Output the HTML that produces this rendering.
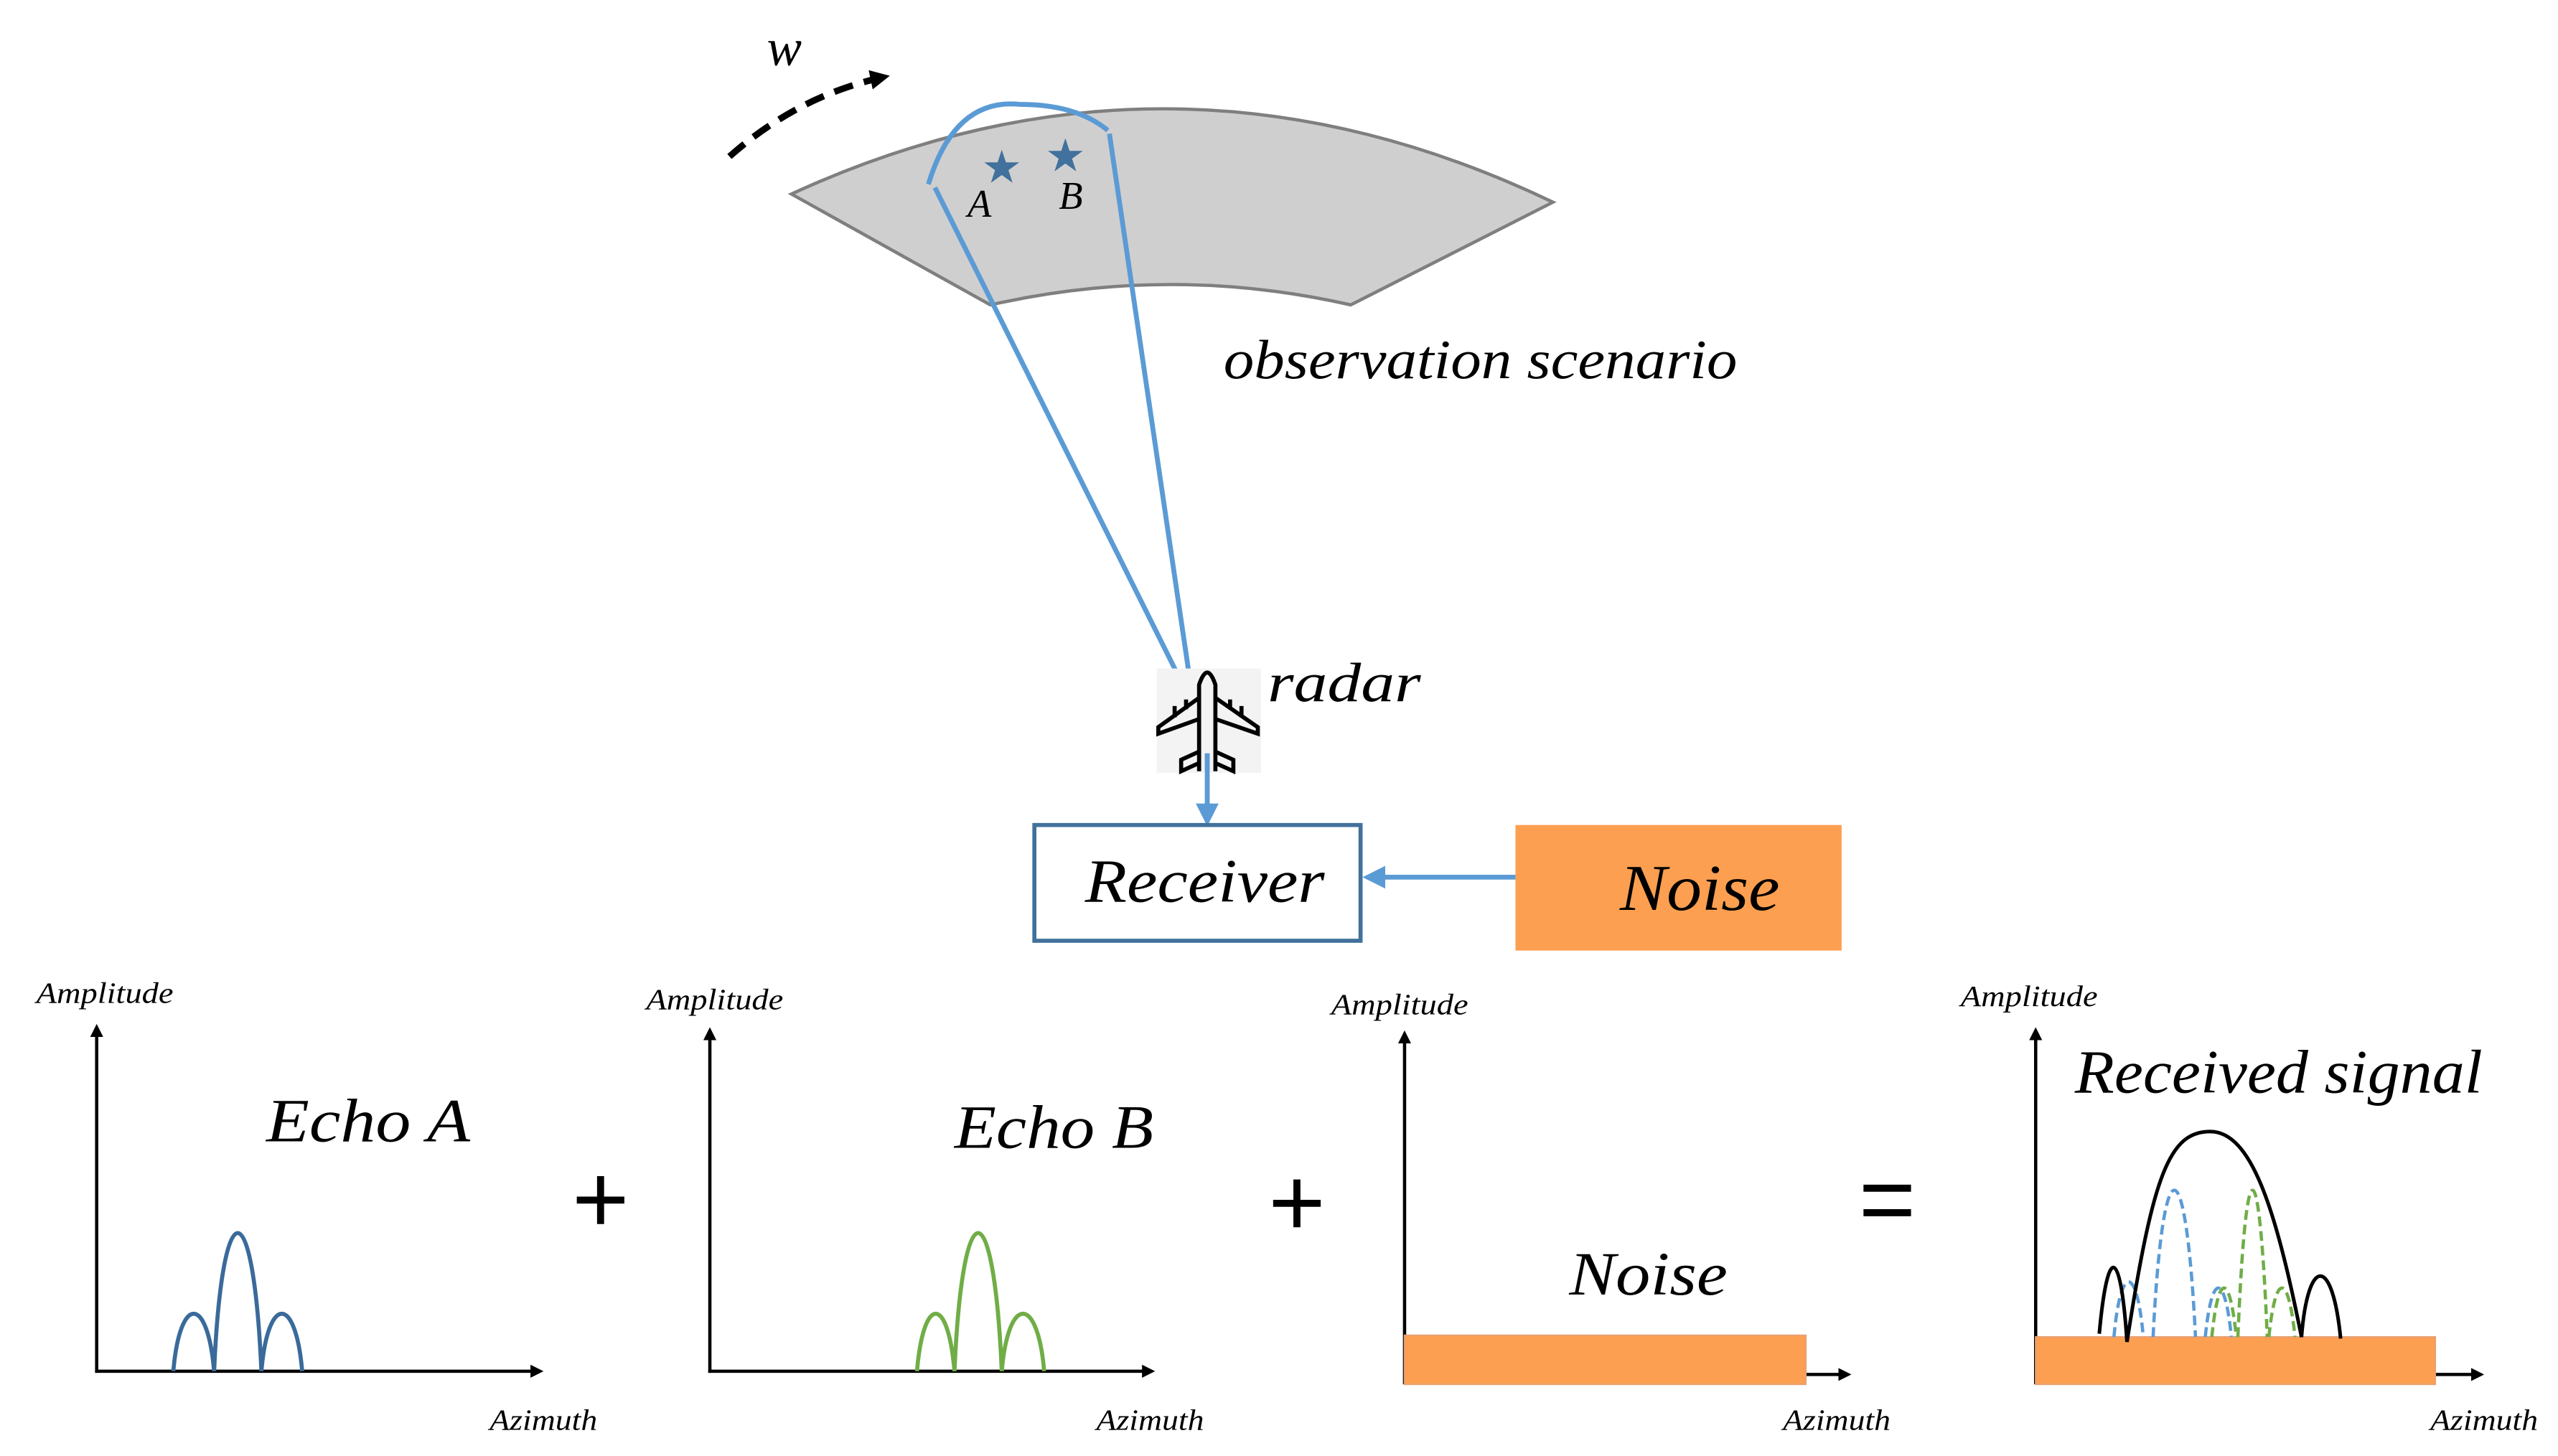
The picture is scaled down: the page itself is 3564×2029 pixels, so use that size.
<!DOCTYPE html>
<html><head><meta charset="utf-8"><style>
html,body{margin:0;padding:0;background:#fff}
svg{display:block}
text{font-family:"Liberation Serif",serif;font-style:italic;fill:#000}
</style></head><body>
<svg width="3564" height="2029" viewBox="0 0 1568 893" xmlns="http://www.w3.org/2000/svg">
<defs>
<marker id="ab" markerWidth="8" markerHeight="8" refX="6" refY="4" orient="auto" markerUnits="userSpaceOnUse"><path d="M0,0 L8,4 L0,8 Z" fill="#000"/></marker>
<marker id="ak" viewBox="0 0 10 10" markerWidth="12" markerHeight="12" refX="8" refY="5" orient="auto" markerUnits="userSpaceOnUse"><path d="M0,0 L10,5 L0,10 Z" fill="#000"/></marker>
<marker id="abl" viewBox="0 0 10 10" markerWidth="14" markerHeight="14" refX="8" refY="5" orient="auto" markerUnits="userSpaceOnUse"><path d="M0,0 L10,5 L0,10 Z" fill="#5b9bd5"/></marker>
</defs>
<path d="M485,119 Q718,12 952,124 L828,187 Q718,162 607,187 Z" fill="#d0cfcf" stroke="#7f7f7f" stroke-width="2"/>
<path d="M569,113 Q585,60 625,64 Q660,64 679,80" fill="none" stroke="#5b9bd5" stroke-width="3"/>
<line x1="573" y1="115" x2="729" y2="428" stroke="#5b9bd5" stroke-width="3"/>
<line x1="680" y1="82" x2="731" y2="428" stroke="#5b9bd5" stroke-width="3"/>
<text x="614" y="112" font-size="28" text-anchor="middle" style="fill:#41719c;font-style:normal">★</text>
<text x="653" y="105" font-size="28" text-anchor="middle" style="fill:#41719c;font-style:normal">★</text>
<text x="593" y="133" font-size="24">A</text>
<text x="649" y="128" font-size="24">B</text>
<text x="470" y="40" font-size="32">w</text>
<path d="M447,96 Q490,58 543,47" fill="none" stroke="#000" stroke-width="4" stroke-dasharray="12,7" marker-end="url(#ak)"/>
<text x="750" y="232" font-size="34" textLength="315" lengthAdjust="spacingAndGlyphs">observation scenario</text>
<rect x="709" y="410" width="64" height="64" fill="#f3f3f3"/>
<g fill="none" stroke="#000" stroke-width="2.5">
<path d="M735,473 L735,420 Q740,405 745,420 L745,473"/>
<path d="M735,428 L710,446 L710,450 L735,441"/>
<path d="M745,428 L771,446 L771,450 L745,441"/>
<path d="M735,461 L724,466 L724,473 L735,468 M745,461 L756,466 L756,473 L745,468"/>
<path d="M720,440 L720,433 M727,435 L727,429 M761,440 L761,433 M754,435 L754,429"/>
</g>
<text x="777" y="430" font-size="34" textLength="94" lengthAdjust="spacingAndGlyphs">radar</text>
<line x1="740" y1="462" x2="740" y2="504" stroke="#5b9bd5" stroke-width="3" marker-end="url(#abl)"/>
<rect x="634" y="506" width="200" height="71" fill="#fff" stroke="#41719c" stroke-width="2.5"/>
<text x="665" y="553" font-size="38" textLength="147" lengthAdjust="spacingAndGlyphs">Receiver</text>
<rect x="929" y="506" width="200" height="77" fill="#fd9f50"/>
<text x="993" y="558" font-size="40" textLength="98" lengthAdjust="spacingAndGlyphs">Noise</text>
<line x1="929" y1="538" x2="838" y2="538" stroke="#5b9bd5" stroke-width="3" marker-end="url(#abl)"/>
<g stroke="#000" stroke-width="2" fill="none">
<line x1="59" y1="842" x2="59" y2="630" marker-end="url(#ab)"/>
<line x1="58" y1="841" x2="331" y2="841" marker-end="url(#ab)"/>
<line x1="435" y1="842" x2="435" y2="632" marker-end="url(#ab)"/>
<line x1="434" y1="841" x2="706" y2="841" marker-end="url(#ab)"/>
<line x1="861" y1="849" x2="861" y2="634" marker-end="url(#ab)"/>
<line x1="1107" y1="843" x2="1133" y2="843" marker-end="url(#ab)"/>
<line x1="1248" y1="849" x2="1248" y2="632" marker-end="url(#ab)"/>
<line x1="1493" y1="843" x2="1521" y2="843" marker-end="url(#ab)"/>
</g>
<text x="22" y="615" font-size="18" textLength="84" lengthAdjust="spacingAndGlyphs">Amplitude</text>
<text x="300" y="877" font-size="18" textLength="66" lengthAdjust="spacingAndGlyphs">Azimuth</text>
<text x="163" y="700" font-size="38" textLength="125" lengthAdjust="spacingAndGlyphs">Echo A</text>
<path d="M106,841 C110,794 127,794 131,841 M160,841 C164,794 181,794 185,841 M131,841 C136,728 155,728 160,841" fill="none" stroke="#3a6a9a" stroke-width="2.5"/>
<text x="368" y="756" font-size="60" text-anchor="middle" style="font-style:normal;font-family:'Liberation Sans',sans-serif">+</text>
<text x="396" y="619" font-size="18" textLength="84" lengthAdjust="spacingAndGlyphs">Amplitude</text>
<text x="672" y="877" font-size="18" textLength="66" lengthAdjust="spacingAndGlyphs">Azimuth</text>
<text x="585" y="704" font-size="38" textLength="122" lengthAdjust="spacingAndGlyphs">Echo B</text>
<path d="M562,841 C566,794 581,794 585,841 M614,841 C618,794 636,794 640,841 M585,841 C590,728 609,728 614,841" fill="none" stroke="#70ad47" stroke-width="2.5"/>
<text x="795" y="758" font-size="60" text-anchor="middle" style="font-style:normal;font-family:'Liberation Sans',sans-serif">+</text>
<text x="816" y="622" font-size="18" textLength="84" lengthAdjust="spacingAndGlyphs">Amplitude</text>
<text x="1093" y="877" font-size="18" textLength="66" lengthAdjust="spacingAndGlyphs">Azimuth</text>
<rect x="861" y="819" width="246" height="30" fill="#fd9f50" stroke="#e8a070" stroke-width="1"/>
<text x="962" y="794" font-size="38" textLength="97" lengthAdjust="spacingAndGlyphs">Noise</text>
<text x="1157" y="756" font-size="60" text-anchor="middle" style="font-style:normal;font-family:'Liberation Sans',sans-serif">=</text>
<text x="1202" y="617" font-size="18" textLength="84" lengthAdjust="spacingAndGlyphs">Amplitude</text>
<text x="1490" y="877" font-size="18" textLength="66" lengthAdjust="spacingAndGlyphs">Azimuth</text>
<text x="1272" y="670" font-size="38" textLength="250" lengthAdjust="spacingAndGlyphs">Received signal</text>
<rect x="1248" y="820" width="245" height="29" fill="#fd9f50" stroke="#e8a070" stroke-width="1"/>
<path d="M1296,820 C1300,775 1310,775 1314,820 M1320,820 C1326,700 1340,700 1346,820 M1352,820 C1356,780 1364,780 1368,820" fill="none" stroke="#5b9bd5" stroke-width="2" stroke-dasharray="6,3"/>
<path d="M1356,820 C1360,780 1367,780 1371,820 M1372,820 C1377,700 1385,700 1390,820 M1391,820 C1395,780 1403,780 1407,820" fill="none" stroke="#70ad47" stroke-width="2" stroke-dasharray="6,3"/>
<path d="M1287,818 C1292,763 1300,763 1304,823 C1320,720 1330,694 1355,694 C1380,694 1395,740 1411,820 C1415,770 1430,770 1435,821" fill="none" stroke="#000" stroke-width="2.2"/>
</svg>
</body></html>
